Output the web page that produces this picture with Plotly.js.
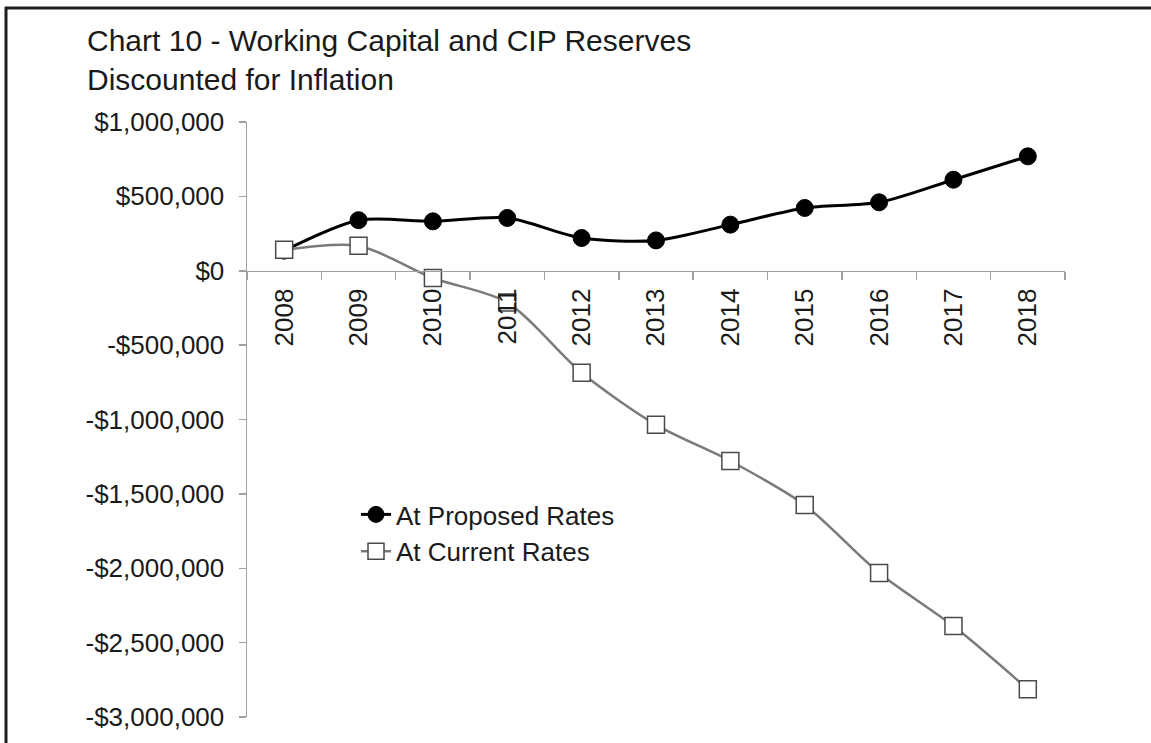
<!DOCTYPE html>
<html>
<head>
<meta charset="utf-8">
<script src="https://cdn.plot.ly/plotly-3.0.1.min.js"></script>
<style>
  html, body { margin: 0; padding: 0; background: #ffffff; }
  #chart { width: 1151px; height: 743px; }
</style>
</head>
<body>
<div id="chart"></div>
<script>
const years = ["2008","2009","2010","2011","2012","2013","2014","2015","2016","2017","2018"];
const proposedRates = [135000, 340000, 332000, 355000, 220000, 204000, 310000, 422000, 460000, 612000, 769000];
const currentRates = [141000, 168000, -49000, -213000, -686000, -1036000, -1279000, -1575000, -2032000, -2389000, -2813000];
const yTickVals = [1000000, 500000, 0, -500000, -1000000, -1500000, -2000000, -2500000, -3000000];
const yTickText = ["$1,000,000", "$500,000", "$0", "-$500,000", "-$1,000,000", "-$1,500,000", "-$2,000,000", "-$2,500,000", "-$3,000,000"];

const FONT = "Liberation Sans, Arial, sans-serif";
const TXT = "#1a1a1a";

const traces = [
  {
    x: years, y: proposedRates, name: "At Proposed Rates",
    type: "scatter", mode: "lines+markers",
    line: { color: "#000000", width: 3, shape: "spline", smoothing: 0.8 },
    marker: { symbol: "circle", size: 17, color: "#000000", line: { color: "#000000", width: 1 } }
  },
  {
    x: years, y: currentRates, name: "At Current Rates",
    type: "scatter", mode: "lines+markers",
    line: { color: "#7a7a7a", width: 2.5, shape: "spline", smoothing: 0.8 },
    marker: { symbol: "square", size: 17, color: "#ffffff", line: { color: "#4a4a4a", width: 1.5 } }
  }
];

const L = 247, R = 1065, T = 122, B = 717, W = 1151, H = 743;
const px = v => (v - L) / (R - L);
const py = v => (B - v) / (B - T);

const layout = {
  width: W, height: H,
  margin: { l: L, r: W - R, t: T, b: H - B, pad: 0 },
  paper_bgcolor: "#ffffff", plot_bgcolor: "#ffffff",
  font: { family: FONT, color: TXT, size: 26 },
  title: {
    text: "Chart 10 - Working Capital and CIP Reserves<br>Discounted for Inflation",
    font: { family: FONT, size: 30, color: TXT },
    xref: "container", x: 87 / W, xanchor: "left",
    yref: "container", y: 1 - 51 / H, yanchor: "top"
  },
  showlegend: true,
  legend: {
    x: px(356), y: py(491), xanchor: "left", yanchor: "top",
    bgcolor: "rgba(0,0,0,0)", borderwidth: 0,
    font: { family: FONT, size: 26, color: TXT },
    tracegroupgap: 0
  },
  xaxis: {
    type: "category", range: [-0.5, 10.5], autorange: false,
    anchor: "free", position: 0.75,
    showline: true, linecolor: "#a0a0a0", linewidth: 1.5,
    ticks: "outside", tickson: "boundaries", ticklen: 8, tickcolor: "#a0a0a0", tickwidth: 1.5,
    tickangle: -90, ticklabelstandoff: 6,
    tickfont: { family: FONT, size: 26, color: TXT },
    showgrid: false, zeroline: false, fixedrange: true
  },
  yaxis: {
    range: [-3000000, 1000000], autorange: false,
    tickvals: yTickVals, ticktext: yTickText,
    showline: true, linecolor: "#a0a0a0", linewidth: 1.5,
    ticks: "outside", ticklen: 7, tickcolor: "#a0a0a0", tickwidth: 1.5,
    ticklabelstandoff: 9,
    tickfont: { family: FONT, size: 26, color: TXT },
    showgrid: false, zeroline: false, fixedrange: true
  },
  shapes: [
    { type: "line", xref: "paper", yref: "paper", x0: px(5), x1: px(1151), y0: py(8), y1: py(8),
      line: { color: "#1e1e1e", width: 3 } },
    { type: "line", xref: "paper", yref: "paper", x0: px(6), x1: px(6), y0: py(7), y1: py(743),
      line: { color: "#1e1e1e", width: 3 } }
  ]
};

Plotly.newPlot("chart", traces, layout, { displayModeBar: false, staticPlot: true });
</script>
</body>
</html>
